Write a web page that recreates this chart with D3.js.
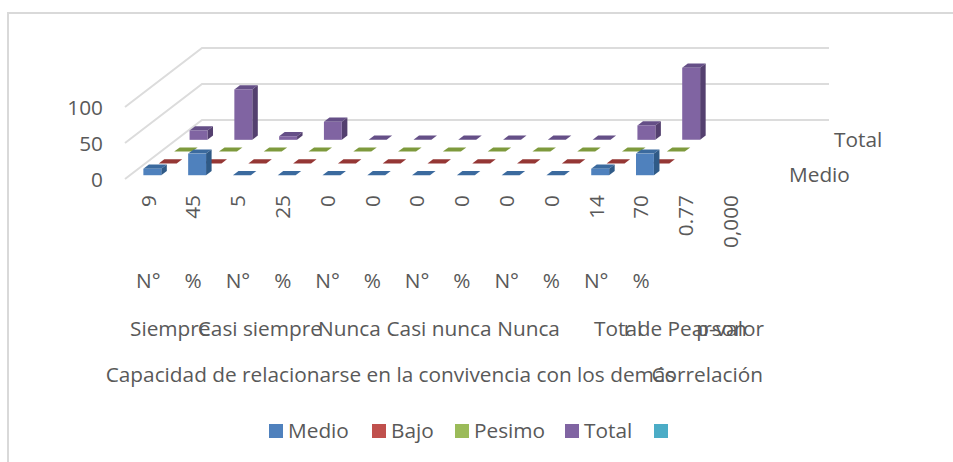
<!DOCTYPE html>
<html>
<head>
<meta charset="utf-8">
<script src="https://cdn.jsdelivr.net/npm/d3@7"></script>
<style>
  html, body { margin: 0; background: #fff; }
  text { font-family: "Open Sans", Lato, sans-serif; fill: #595959; }
</style>
</head>
<body>
<div id="chart"></div>
<script>
var columns = ["9", "45", "5", "25", "0", "0", "0", "0", "0", "0", "14", "70", "0.77", "0,000"];
var units = ["N°", "%", "N°", "%", "N°", "%", "N°", "%", "N°", "%", "N°", "%"];
var groups = ["Siempre", "Casi siempre", "Nunca", "Casi nunca", "Nunca", "Total", "r de Pearson", "p-valor"];
var groupCols = [[0, 1], [2, 3], [4, 5], [6, 7], [8, 9], [10, 11], [12, 12], [13, 13]];
var seriesNames = ["Medio", "Bajo", "Pesimo", "Total", " "];
var medio = [9, 30, 0, 0, 0, 0, 0, 0, 0, 0, 9, 30];
var bajo = [0, 0, 0, 0, 0, 0, 0, 0, 0, 0, 0, 0];
var pesimo = [0, 0, 0, 0, 0, 0, 0, 0, 0, 0, 0, 0];
var total = [13, 70, 5, 25, 0, 0, 0, 0, 0, 0, 20, 100];
var yTicks = [0, 50, 100];

var width = 953, height = 462;
var values = [medio, bajo, pesimo, total, []];
var fronts = ["#4f81bd", "#c0504d", "#9bbb59", "#8064a2", "#4bacc6"];
var tops = ["#3b6a9e", "#953735", "#7e9a3d", "#654f87", "#3a8ca3"];
var sides = ["#2f5a87", "#7f2f2d", "#66803a", "#54406f", "#2f7a8f"];

var svg = d3.select("#chart").append("svg")
    .attr("width", width)
    .attr("height", height)
    .style("display", "block");

// chart frame, the crop only keeps the top and left edges
svg.append("path")
    .attr("d", "M8,462V13H953")
    .attr("fill", "none")
    .attr("stroke", "#d9d9d9")
    .attr("stroke-width", 2);

var x = d3.scaleBand().domain(d3.range(columns.length)).range([125, 752]).paddingInner(0.6).paddingOuter(0.3);
var y = d3.scaleLinear().domain([0, 100]).range([179, 107]);
var depth = d3.scaleBand().domain(seriesNames).range([0, 1]).paddingInner(0.64).paddingOuter(0.32);
var depthX = 77, depthY = 59;

function pt(col, dx, val, d) {
    return [x(col) + dx + d * depthX, y(val) - d * depthY];
}

// walls
svg.append("g").selectAll("path").data(yTicks).enter().append("path")
    .attr("d", function (t) {
        return d3.line()([[x.range()[0], y(t)], [x.range()[0] + depthX, y(t) - depthY], [x.range()[1] + depthX, y(t) - depthY]]);
    })
    .attr("fill", "none")
    .attr("stroke", "#dcdcdc")
    .attr("stroke-width", 2);

var w = x.bandwidth();
var dw = depth.bandwidth();

// back row first so the front row covers it
seriesNames.slice().reverse().forEach(function (name) {
    var si = seriesNames.indexOf(name);
    var d0 = depth(name), d1 = d0 + dw;
    var g = svg.append("g");
    g.selectAll("g").data(values[si]).enter().append("g").each(function (v, i) {
        var b = d3.select(this);
        b.append("path")
            .attr("fill", tops[si])
            .attr("d", d3.line()([pt(i, 0, v, d0), pt(i, w, v, d0), pt(i, w, v, d1), pt(i, 0, v, d1)]) + "Z");
        if (v > 0) {
            b.append("path")
                .attr("fill", sides[si])
                .attr("d", d3.line()([pt(i, w, 0, d0), pt(i, w, 0, d1), pt(i, w, v, d1), pt(i, w, v, d0)]) + "Z");
            b.append("path")
                .attr("fill", fronts[si])
                .attr("d", d3.line()([pt(i, 0, 0, d0), pt(i, w, 0, d0), pt(i, w, v, d0), pt(i, 0, v, d0)]) + "Z");
        }
    });
});

var fontSize = 20.8;

// value axis
var yAxis = svg.append("g")
    .attr("transform", "translate(103,1)")
    .call(d3.axisLeft(y).tickValues(yTicks).tickSize(0).tickPadding(0));
yAxis.select(".domain").remove();
yAxis.selectAll("text").attr("font-size", fontSize).style("font-family", null);

// rotated labels, one per column
var colAxis = svg.append("g")
    .attr("transform", "translate(1,195)")
    .call(d3.axisBottom(x).tickFormat(function (i) { return columns[i]; }).tickSize(0).tickPadding(0));
colAxis.select(".domain").remove();
colAxis.selectAll("text")
    .attr("font-size", fontSize)
    .style("font-family", null)
    .attr("text-anchor", "end")
    .attr("dy", "0.35em")
    .attr("y", 0)
    .attr("transform", "rotate(-90)");

// units row
svg.append("g").selectAll("text").data(units).enter().append("text")
    .attr("x", function (d, i) { return x(i) + w / 2 + 1; })
    .attr("y", 288)
    .attr("text-anchor", "middle")
    .attr("font-size", fontSize)
    .text(function (d) { return d; });

// group row
svg.append("g").selectAll("text").data(groups).enter().append("text")
    .attr("x", function (d, i) {
        var c = groupCols[i];
        return (x(c[0]) + x(c[1]) + w) / 2 + 0.5;
    })
    .attr("y", 336)
    .attr("text-anchor", "middle")
    .attr("font-size", fontSize)
    .text(function (d) { return d; });

// top level row
svg.append("text").attr("x", 390.5).attr("y", 382).attr("text-anchor", "middle").attr("font-size", fontSize)
    .text("Capacidad de relacionarse en la convivencia con los demás");
svg.append("text").attr("x", (x(12) + x(13) + w) / 2).attr("y", 382).attr("text-anchor", "middle").attr("font-size", fontSize)
    .text("Correlación");

// depth axis labels
svg.append("text").attr("x", 834).attr("y", 147).attr("font-size", fontSize).text("Total");
svg.append("text").attr("x", 789).attr("y", 182).attr("font-size", fontSize).text("Medio");

// legend
var legendX = [269, 372, 455, 565, 654];
var legend = svg.append("g").selectAll("g").data(seriesNames).enter().append("g")
    .attr("transform", function (d, i) { return "translate(" + legendX[i] + ",424)"; });
legend.append("rect").attr("width", 14).attr("height", 14).attr("fill", function (d, i) { return fronts[i]; });
legend.append("text").attr("x", 19).attr("y", 13.5).attr("font-size", fontSize).text(function (d) { return d; });
</script>
</body>
</html>
